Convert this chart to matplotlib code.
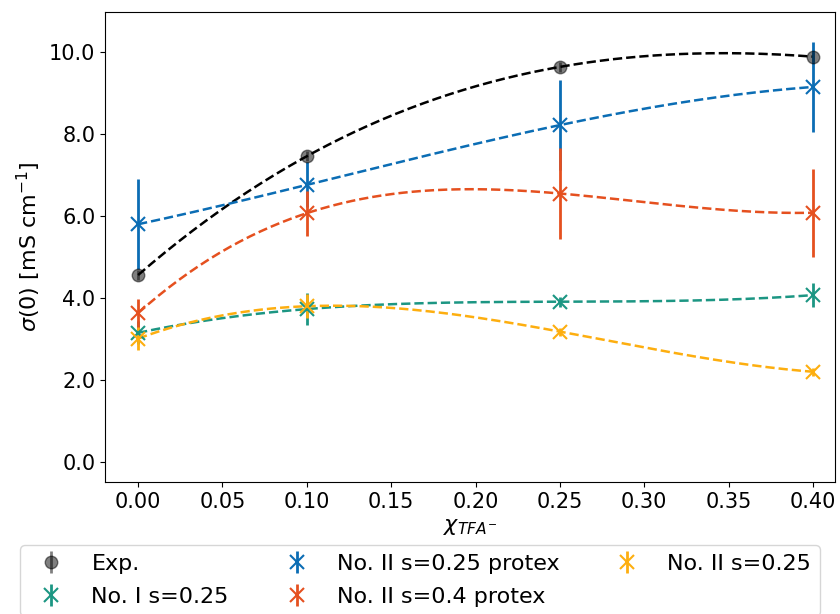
import numpy as np
import matplotlib
matplotlib.use("Agg")
import matplotlib.pyplot as plt

# ---- data ----
x_frac = [0.0, 0.10, 0.25, 0.40]

exp_sigma = [4.56, 7.46, 9.64, 9.89]
exp_err = [0.12, 0.12, 0.12, 0.12]

no1_s025 = [3.15, 3.73, 3.91, 4.07]
no1_s025_err = [0.28, 0.40, 0.12, 0.29]

no2_s025_protex = [5.80, 6.76, 8.22, 9.15]
no2_s025_protex_err = [1.10, 0.55, 1.10, 1.10]

no2_s04_protex = [3.63, 6.07, 6.55, 6.08]
no2_s04_protex_err = [0.35, 0.55, 1.10, 1.08]

no2_s025 = [3.01, 3.80, 3.18, 2.20]
no2_s025_err = [0.29, 0.30, 0.10, 0.10]

series = [
    ("Exp.", exp_sigma, exp_err, "black"),
    ("No. I s=0.25", no1_s025, no1_s025_err, "#1c9683"),
    ("No. II s=0.25 protex", no2_s025_protex, no2_s025_protex_err, "#0b6db4"),
    ("No. II s=0.4 protex", no2_s04_protex, no2_s04_protex_err, "#e5501f"),
    ("No. II s=0.25", no2_s025, no2_s025_err, "#fdae0f"),
]

plt.rcParams["font.size"] = 15

fig = plt.figure(figsize=(8.4, 6.14), dpi=100)
ax = fig.add_axes([0.125, 0.215, 0.869, 0.7655])

x_fine = np.linspace(min(x_frac), max(x_frac), 200)
for label, y, yerr, color in series:
    if label == "Exp.":
        ax.errorbar(x_frac, y, yerr=yerr, fmt="o", color=color, alpha=0.5,
                    ms=9, elinewidth=2, label=label, zorder=3)
    else:
        ax.errorbar(x_frac, y, yerr=yerr, fmt="x", color=color, ms=10,
                    mew=1.5, elinewidth=2, label=label, zorder=3)
    # cubic through the four points
    coef = np.polyfit(x_frac, y, 3)
    ax.plot(x_fine, np.polyval(coef, x_fine), "--", color=color, lw=1.8,
            zorder=2)

ax.set_xlabel(r"$\chi_{TFA^{-}}$", fontsize=16)
ax.set_ylabel(r"$\sigma(0)$ [mS cm$^{-1}$]", fontsize=16)
ax.set_xticks(np.arange(0, 0.41, 0.05))
ax.xaxis.set_major_formatter(matplotlib.ticker.FormatStrFormatter("%.2f"))
ax.set_yticks(np.arange(0, 10.1, 2))
ax.yaxis.set_major_formatter(matplotlib.ticker.FormatStrFormatter("%.1f"))
ax.set_xlim(-0.0196, 0.413)
ax.set_ylim(-0.49, 10.98)

fig.legend(loc="upper center", bbox_to_anchor=(0.5, 0.112), ncol=3,
           borderaxespad=0, columnspacing=2.05, fontsize=16, labelspacing=0.58)

fig.savefig("out.png", dpi=100)
